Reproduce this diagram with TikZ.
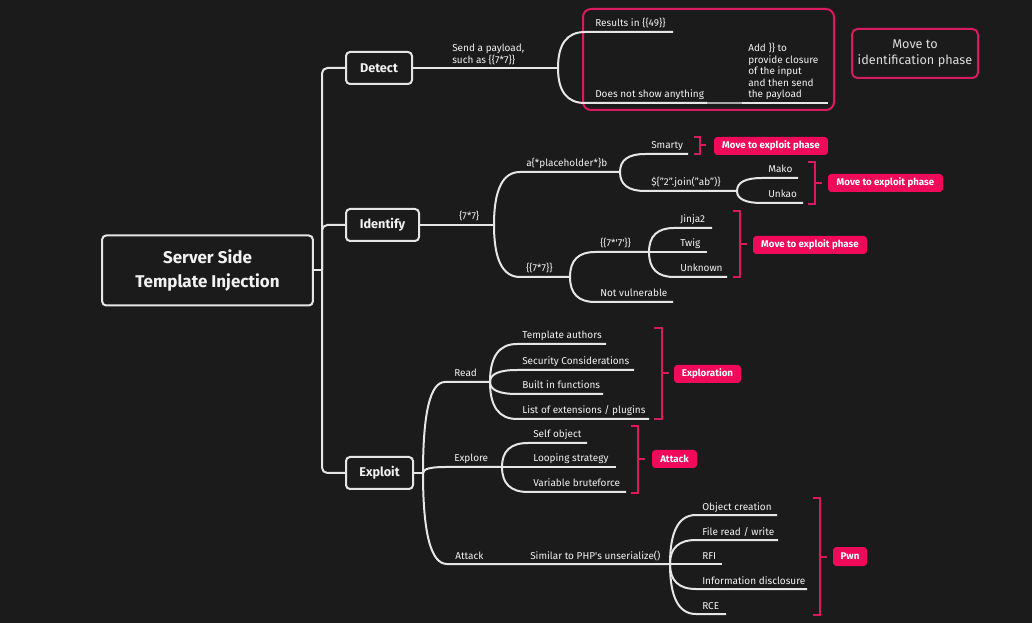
\documentclass[tikz,border=0pt]{standalone}
\usepackage{fontspec}
\setmainfont{Fira Sans}
\usetikzlibrary{calc}
\definecolor{bgc}{HTML}{1B1B1C}
\definecolor{lnc}{HTML}{E6E6E6}
\definecolor{txtc}{HTML}{F2F2F2}
\definecolor{pinkfill}{HTML}{F20A5A}
\definecolor{pinkline}{HTML}{D81B5E}
\definecolor{softtxt}{HTML}{DCDCDC}
% smooth branch: from #1 (vertical start) to #2 (horizontal end), then on to #3
\newcommand\brcurve[3]{%
  \draw[ln] (#1) let \p1=(#1), \p2=(#2) in
    .. controls ($(\p1)!0.667!(\x1,\y2)$) and ($(\p2)!0.667!(\x1,\y2)$) .. (#2) -- (#3);}
\begin{document}
\begin{tikzpicture}[x=0.75pt,y=-0.75pt,
  ln/.style={draw=lnc,line width=1.5pt},
  thinln/.style={draw=lnc!70!bgc,line width=0.8pt},
  mainbox/.style={draw=lnc,line width=1.5pt,rounded corners=3pt,fill=bgc,text=txtc,font=\fontsize{9.5}{11}\selectfont\bfseries,minimum height=24pt,inner sep=0pt},
  lbl/.style={anchor=base west,inner sep=0pt,text=txtc,font=\fontsize{7.5}{8.6}\selectfont},
  mlbl/.style={anchor=south west,inner sep=0pt,text=txtc,align=left,font=\fontsize{7.5}{8.6}\selectfont},
  tag/.style={fill=pinkfill,rounded corners=2.5pt,text=white,font=\fontsize{7.3}{8.5}\selectfont\bfseries,minimum height=13.5pt,inner sep=0pt},
  brk/.style={draw=pinkline,line width=1.5pt},
  frame/.style={draw=pinkline,line width=1.5pt,rounded corners=6pt}
]
\fill[bgc] (0,0) rectangle (1032,623);
\useasboundingbox (0,0) rectangle (1032,623);

% root and main topics
\node[mainbox,minimum width=158pt,minimum height=52.5pt,font=\fontsize{12.75}{18}\selectfont\bfseries,align=center] (root) at (207.5,270.5) {Server Side\\Template Injection};
\node[mainbox,minimum width=49.5pt] (detect) at (379,68) {Detect};
\node[mainbox,minimum width=54.75pt] (identify) at (382.5,225) {Identify};
\node[mainbox,minimum width=50.25pt] (exploit) at (379.5,473) {Exploit};
\coordinate (t) at (322,270.5);
\draw[ln] (root.east) -- (t);
\draw[ln,rounded corners=4pt] (detect.west) -| (t);
\draw[ln,rounded corners=4pt] (identify.west) -| (t);
\draw[ln,rounded corners=4pt] (exploit.west) -| (t);

% ---------------- Detect ----------------
\coordinate (db) at (558,68);
\draw[ln] (detect.east) -- (db);
\node[mlbl] (dlab) at (452,65) {Send a payload,\\such as \{\{7*7\}\}};
\node[frame,minimum width=188.25pt,minimum height=75.75pt] (dframe) at (708.5,59.5) {};
\coordinate (r49a) at (585,32); \coordinate (r49b) at (673,32);
\coordinate (nsa) at (585,103); \coordinate (nsb) at (707,103);
\coordinate (ada) at (742,103); \coordinate (adb) at (828,103);
\brcurve{db}{r49a}{r49b}
\brcurve{db}{nsa}{nsb}
\draw[thinln] (nsb) -- (ada);
\draw[ln] (ada) -- (adb);
\node[lbl] (r49) at (595,27) {Results in \{\{49\}\}};
\node[lbl] (nshow) at (595,98) {Does not show anything};
\node[mlbl] (addc) at (748,100) {Add \}\} to\\provide closure\\of the input\\and then send\\the payload};
\node[draw=pinkline,line width=1.5pt,rounded corners=4pt,fill=bgc,minimum width=94.5pt,minimum height=36.75pt,align=center,text=softtxt,font=\fontsize{9.5}{12}\selectfont,inner sep=0pt] (mid) at (915,53.5) {Move to\\identification phase};

% ---------------- Identify ----------------
\coordinate (ib) at (494,225);
\draw[ln] (identify.east) -- (ib);
\node[lbl] (i77) at (459,220) {\{7*7\}};
\coordinate (pb) at (620,172);
\coordinate (jb) at (570,277);
\coordinate (ia1) at (520,172);
\coordinate (ia2) at (520,277);
\brcurve{ib}{ia1}{pb}
\brcurve{ib}{ia2}{jb}
\node[lbl] (ph) at (526,167) {a\{*placeholder*\}b};
\node[lbl] (dd) at (526,272) {\{\{7*7\}\}};

% placeholder branch
\coordinate (gb) at (737,191);
\coordinate (sm1) at (645,154); \coordinate (sm2) at (688,154);
\coordinate (jn1) at (645,191);
\brcurve{pb}{sm1}{sm2}
\brcurve{pb}{jn1}{gb}
\node[lbl] (smarty) at (651,149) {Smarty};
\node[lbl] (join) at (651,186) {\$\{"2".join("ab")\}};
\coordinate (mk1) at (762,178); \coordinate (mk2) at (798,178);
\coordinate (uk1) at (762,203); \coordinate (uk2) at (803,203);
\brcurve{gb}{mk1}{mk2}
\brcurve{gb}{uk1}{uk2}
\node[lbl] (mako) at (768,173) {Mako};
\node[lbl] (unkao) at (768,198) {Unkao};

% {{7*7}} branch
\coordinate (qb) at (649,252);
\coordinate (q1) at (595,252);
\coordinate (nv1) at (595,302); \coordinate (nv2) at (673,302);
\brcurve{jb}{q1}{qb}
\brcurve{jb}{nv1}{nv2}
\node[lbl] (q77) at (600,247) {\{\{7*\textquotesingle7\textquotesingle\}\}};
\node[lbl] (notv) at (600,297) {Not vulnerable};
\coordinate (jj1) at (674,228); \coordinate (jj2) at (712,228);
\coordinate (tw2) at (707,252);
\coordinate (un1) at (674,277); \coordinate (un2) at (727,277);
\brcurve{qb}{jj1}{jj2}
\draw[ln] (qb) -- (tw2);
\brcurve{qb}{un1}{un2}
\node[lbl] (jinja) at (680,223) {Jinja2};
\node[lbl] (twig) at (680,247) {Twig};
\node[lbl] (unknown) at (680,272) {Unknown};

% brackets and tags (identify)
\draw[brk] (694,137) -- (700,137) -- (700,154) -- (694,154) (700,145.5) -- (706,145.5);
\node[tag,minimum width=85.5pt] (t1) at (771,146) {Move to exploit phase};
\draw[brk] (808,162) -- (815,162) -- (815,204) -- (808,204) (815,183) -- (822,183);
\node[tag,minimum width=86.25pt] (t2) at (885.5,183) {Move to exploit phase};
\draw[brk] (733,211) -- (740,211) -- (740,277) -- (733,277) (740,244) -- (747,244);
\node[tag,minimum width=85.5pt] (t3) at (810,245) {Move to exploit phase};

% ---------------- Exploit ----------------
\coordinate (eb) at (423,473);
\draw[ln] (exploit.east) -- (eb);
\coordinate (rb) at (490,382);
\coordinate (xb) at (502,467);
\coordinate (ab) at (670,564);
\coordinate (e1) at (445,382);
\coordinate (e2) at (445,467);
\coordinate (e3) at (447,564);
\brcurve{eb}{e1}{rb}
\brcurve{eb}{e2}{xb}
\brcurve{eb}{e3}{ab}
\node[lbl] (read) at (454,377) {Read};
\node[lbl] (explore) at (454,462) {Explore};
\node[lbl] (attack) at (455,559) {Attack};
\node[lbl] (php) at (530,559) {Similar to PHP\textquotesingle s unserialize()};

% Read children
\coordinate (ra1) at (517,344); \coordinate (ra2) at (606,344);
\coordinate (rs1) at (517,370); \coordinate (rs2) at (634,370);
\coordinate (rf1) at (517,394); \coordinate (rf2) at (603,394);
\coordinate (rl1) at (517,419); \coordinate (rl2) at (649,419);
\brcurve{rb}{ra1}{ra2}
\brcurve{rb}{rs1}{rs2}
\brcurve{rb}{rf1}{rf2}
\brcurve{rb}{rl1}{rl2}
\node[lbl] (ta) at (522,339) {Template authors};
\node[lbl] (sc) at (522,365) {Security Considerations};
\node[lbl] (bf) at (522,389) {Built in functions};
\node[lbl] (le) at (522,414) {List of extensions / plugins};
\draw[brk] (654,328) -- (662,328) -- (662,419) -- (654,419) (662,373) -- (669,373);
\node[tag,minimum width=50.25pt] (t4) at (707.5,374) {Exploration};

% Explore children
\coordinate (xs1) at (528,443); \coordinate (xs2) at (587,443);
\coordinate (xl2) at (616,467);
\coordinate (xv1) at (528,492); \coordinate (xv2) at (626,492);
\brcurve{xb}{xs1}{xs2}
\draw[ln] (xb) -- (xl2);
\brcurve{xb}{xv1}{xv2}
\node[lbl] (so) at (533,438) {Self object};
\node[lbl] (ls) at (533,462) {Looping strategy};
\node[lbl] (vb) at (533,487) {Variable bruteforce};
\draw[brk] (631,426) -- (638,426) -- (638,493) -- (631,493) (638,459) -- (645,459);
\node[tag,minimum width=33.75pt] (t5) at (674.5,459) {Attack};

% Attack children
\coordinate (ao1) at (696,515); \coordinate (ao2) at (777,515);
\coordinate (af1) at (696,540); \coordinate (af2) at (778,540);
\coordinate (ar2) at (722,564);
\coordinate (ai1) at (696,589); \coordinate (ai2) at (807,589);
\coordinate (ac1) at (696,614); \coordinate (ac2) at (726,614);
\brcurve{ab}{ao1}{ao2}
\brcurve{ab}{af1}{af2}
\draw[ln] (ab) -- (ar2);
\brcurve{ab}{ai1}{ai2}
\brcurve{ab}{ac1}{ac2}
\node[lbl] (oc) at (702,510) {Object creation};
\node[lbl] (frw) at (702,535) {File read / write};
\node[lbl] (rfi) at (702,559) {RFI};
\node[lbl] (idis) at (702,584) {Information disclosure};
\node[lbl] (rce) at (702,609) {RCE};
\draw[brk] (813,498) -- (820,498) -- (820,615) -- (813,615) (820,557) -- (827,557);
\node[tag,minimum width=25.5pt,minimum height=14.25pt] (t6) at (850,556.5) {Pwn};
\end{tikzpicture}
\end{document}
